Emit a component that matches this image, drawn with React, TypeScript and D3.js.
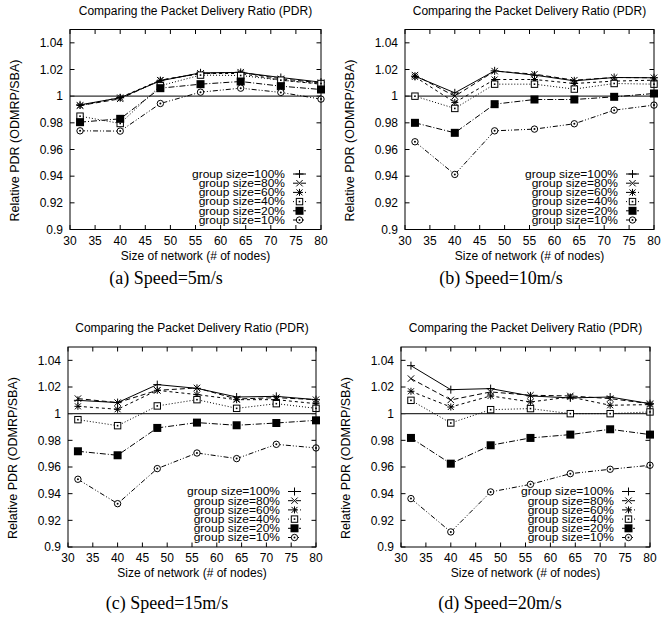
import React from 'react';
import * as d3 from 'd3';

// ---------- data ----------
const nodes = [32, 40, 48, 56, 64, 72, 80];
const groupLabels = [
  'group size=100%',
  'group size=80%',
  'group size=60%',
  'group size=40%',
  'group size=20%',
  'group size=10%',
];
const xTicks = [30, 35, 40, 45, 50, 55, 60, 65, 70, 75, 80];
const yTicks = [0.9, 0.92, 0.94, 0.96, 0.98, 1, 1.02, 1.04];
const chartTitle = 'Comparing the Packet Delivery Ratio (PDR)';
const xLabel = 'Size of network (# of nodes)';
const yLabel = 'Relative PDR (ODMRP/SBA)';
const captions = ['(a)  Speed=5m/s', '(b)  Speed=10m/s', '(c)  Speed=15m/s', '(d)  Speed=20m/s'];

// Speed = 5 m/s
const s5_g100 = [0.9935, 0.9988, 1.0115, 1.0175, 1.0178, 1.014, 1.0105];
const s5_g80 = [0.993, 0.998, 1.012, 1.017, 1.018, 1.013, 1.01];
const s5_g60 = [0.993, 0.999, 1.012, 1.017, 1.017, 1.012, 1.009];
const s5_g40 = [0.985, 0.9795, 1.0078, 1.0158, 1.0155, 1.012, 1.0095];
const s5_g20 = [0.9805, 0.983, 1.006, 1.009, 1.011, 1.0075, 1.005];
const s5_g10 = [0.974, 0.9738, 0.9945, 1.003, 1.006, 1.0028, 0.9978];

// Speed = 10 m/s
const s10_g100 = [1.015, 1.0025, 1.019, 1.0158, 1.0115, 1.014, 1.0138];
const s10_g80 = [1.0158, 1.0, 1.0188, 1.0165, 1.012, 1.014, 1.0138];
const s10_g60 = [1.0145, 0.9953, 1.0125, 1.0125, 1.0095, 1.0113, 1.012];
const s10_g40 = [1.0, 0.9908, 1.009, 1.009, 1.0053, 1.0095, 1.009];
const s10_g20 = [0.98, 0.9725, 0.994, 0.9975, 0.9975, 0.9995, 1.002];
const s10_g10 = [0.9658, 0.9413, 0.974, 0.9753, 0.9793, 0.9895, 0.9933];

// Speed = 15 m/s
const s15_g100 = [1.01, 1.0083, 1.0218, 1.019, 1.0125, 1.013, 1.0105];
const s15_g80 = [1.0113, 1.0083, 1.0175, 1.0193, 1.011, 1.012, 1.0105];
const s15_g60 = [1.0055, 1.0033, 1.0175, 1.0143, 1.0105, 1.0105, 1.0075];
const s15_g40 = [0.9955, 0.991, 1.0058, 1.0105, 1.004, 1.0075, 1.004];
const s15_g20 = [0.9718, 0.9688, 0.9893, 0.9933, 0.9913, 0.993, 0.995];
const s15_g10 = [0.9508, 0.9325, 0.9588, 0.9705, 0.9663, 0.977, 0.9743];

// Speed = 20 m/s
const s20_g100 = [1.036, 1.018, 1.0188, 1.0133, 1.0118, 1.0125, 1.0075];
const s20_g80 = [1.0263, 1.0103, 1.0163, 1.0138, 1.0133, 1.0113, 1.0075];
const s20_g60 = [1.0168, 1.005, 1.0133, 1.0088, 1.0125, 1.0063, 1.0068];
const s20_g40 = [1.01, 0.993, 1.003, 1.0038, 1.0, 1.0, 1.0013];
const s20_g20 = [0.9818, 0.9625, 0.9763, 0.9818, 0.9843, 0.9883, 0.9843];
const s20_g10 = [0.9363, 0.9113, 0.9413, 0.947, 0.955, 0.9583, 0.9613];

const panelSeries = [
  [s5_g100, s5_g80, s5_g60, s5_g40, s5_g20, s5_g10],
  [s10_g100, s10_g80, s10_g60, s10_g40, s10_g20, s10_g10],
  [s15_g100, s15_g80, s15_g60, s15_g40, s15_g20, s15_g10],
  [s20_g100, s20_g80, s20_g60, s20_g40, s20_g20, s20_g10],
];

// ---------- layout / style ----------
const layouts = [
  { left: 70, right: 321, top: 29.5, bottom: 229.5, capX: 166, capY: 284 },
  { left: 405, right: 654, top: 29.5, bottom: 229.5, capX: 501, capY: 284 },
  { left: 68, right: 316, top: 347, bottom: 547, capX: 167, capY: 609 },
  { left: 401, right: 650, top: 347, bottom: 547, capX: 500, capY: 609 },
];
const dashes = ['none', '5,3', '3,3', '1,2', '6,2,1,2', '5,2,1,2,1,2'];
const SANS = '"Liberation Sans", Arial, Helvetica, sans-serif';
const SERIF = '"Liberation Serif", "Times New Roman", serif';

function Marker({ kind, x, y }: { kind: number; x: number; y: number }) {
  const s = 3.2;
  const st = { stroke: '#000', strokeWidth: 1, fill: 'none' };
  switch (kind) {
    case 0:
      return <path d={`M${x - 4},${y}H${x + 4}M${x},${y - 4}V${y + 4}`} {...st} />;
    case 1:
      return <path d={`M${x - s},${y - s}L${x + s},${y + s}M${x - s},${y + s}L${x + s},${y - s}`} {...st} />;
    case 2:
      return (
        <path
          d={`M${x - 3},${y - 3}L${x + 3},${y + 3}M${x - 3},${y + 3}L${x + 3},${y - 3}M${x - 3.5},${y}H${x + 3.5}M${x},${y - 3.5}V${y + 3.5}`}
          {...st}
        />
      );
    case 3:
      return (
        <g>
          <rect x={x - s} y={y - s} width={2 * s} height={2 * s} fill="#fff" stroke="#000" strokeWidth={1} />
          <rect x={x - 0.8} y={y - 0.8} width={1.6} height={1.6} fill="#000" />
        </g>
      );
    case 4:
      return <rect x={x - 4} y={y - 4} width={8} height={8} fill="#000" />;
    default:
      return (
        <g>
          <circle cx={x} cy={y} r={s} fill="#fff" stroke="#000" strokeWidth={1} />
          <circle cx={x} cy={y} r={1} fill="#000" />
        </g>
      );
  }
}

function Panel({ idx }: { idx: number }) {
  const L = layouts[idx];
  const series = panelSeries[idx];
  const x = d3.scaleLinear().domain([30, 80]).range([L.left, L.right]);
  const y = d3.scaleLinear().domain([0.9, 1.05]).range([L.bottom, L.top]);
  const line = d3
    .line<number>()
    .x((_, i) => x(nodes[i]))
    .y((d) => y(d));
  const tk = 4.5;
  const fmt = (v: number) => String(+v.toFixed(2));
  const cx = (L.left + L.right) / 2;
  const cy = (L.top + L.bottom) / 2;
  const legX = L.right - 36;
  const legY0 = L.bottom - 55.5;
  const legStep = 9.2;
  return (
    <g>
      <text x={cx} y={L.top - 15} textAnchor="middle" fontFamily={SANS} fontSize={12} fill="#000">
        {chartTitle}
      </text>
      {/* ticks */}
      {xTicks.map((t) => (
        <g key={'x' + t}>
          <line x1={x(t)} x2={x(t)} y1={L.bottom} y2={L.bottom - tk} stroke="#000" />
          <line x1={x(t)} x2={x(t)} y1={L.top} y2={L.top + tk} stroke="#000" />
          <text x={x(t)} y={L.bottom + 15} textAnchor="middle" fontFamily={SANS} fontSize={12} fill="#000">
            {t}
          </text>
        </g>
      ))}
      {yTicks.map((t) => (
        <g key={'y' + t}>
          <line x1={L.left} x2={L.left + tk} y1={y(t)} y2={y(t)} stroke="#000" />
          <line x1={L.right} x2={L.right - tk} y1={y(t)} y2={y(t)} stroke="#000" />
          <text x={L.left - 7} y={y(t) + 4.3} textAnchor="end" fontFamily={SANS} fontSize={12} fill="#000">
            {fmt(t)}
          </text>
        </g>
      ))}
      {/* reference line at 1 */}
      <line x1={L.left} x2={L.right} y1={y(1)} y2={y(1)} stroke="#333" strokeWidth={1.2} />
      {/* series */}
      {series.map((s, si) => (
        <g key={'s' + si}>
          <path d={line(s) || ''} fill="none" stroke="#000" strokeWidth={1} strokeDasharray={dashes[si]} />
          {s.map((v, i) => (
            <Marker key={i} kind={si} x={x(nodes[i])} y={y(v)} />
          ))}
        </g>
      ))}
      {/* legend */}
      {groupLabels.map((g, gi) => (
        <g key={'l' + gi}>
          <text
            transform={`translate(${legX},${legY0 + gi * legStep + 3.8}) scale(1,0.85)`}
            textAnchor="end"
            fontFamily={SANS}
            fontSize={12}
            fill="#000"
          >
            {g}
          </text>
          <line
            x1={L.right - 28}
            x2={L.right - 15}
            y1={legY0 + gi * legStep}
            y2={legY0 + gi * legStep}
            stroke="#000"
            strokeDasharray={dashes[gi]}
          />
          <Marker kind={gi} x={L.right - 21.5} y={legY0 + gi * legStep} />
        </g>
      ))}
      {/* frame */}
      <rect x={L.left} y={L.top} width={L.right - L.left} height={L.bottom - L.top} fill="none" stroke="#000" strokeWidth={1} />
      {/* axis labels */}
      <text x={cx} y={L.bottom + 30} textAnchor="middle" fontFamily={SANS} fontSize={12} fill="#000">
        {xLabel}
      </text>
      <text
        transform={`translate(${L.left - 51},${cy + 11}) rotate(-90)`}
        textAnchor="middle"
        fontFamily={SANS}
        fontSize={12.5}
        fill="#000"
      >
        {yLabel}
      </text>
      <text x={L.capX} y={L.capY} textAnchor="middle" fontFamily={SERIF} fontSize={18} fill="#000">
        {captions[idx]}
      </text>
    </g>
  );
}

export default function App() {
  return (
    <svg
      width={662}
      height={624}
      viewBox="0 0 662 624"
      style={{ position: 'absolute', left: 0, top: 0, background: '#fff' }}
    >
      <rect width={662} height={624} fill="#fff" />
      {[0, 1, 2, 3].map((i) => (
        <Panel key={i} idx={i} />
      ))}
    </svg>
  );
}
